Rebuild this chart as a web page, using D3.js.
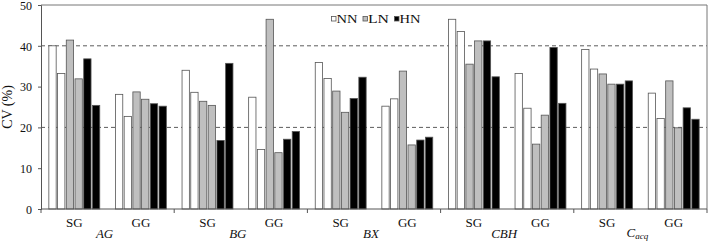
<!DOCTYPE html>
<html>
<head>
<meta charset="utf-8">
<script src="https://cdn.jsdelivr.net/npm/d3@7"></script>
<style>
  body { margin: 0; background: #fff; }
  text { font-family: "Liberation Serif", "Times New Roman", serif; fill: #111; }
</style>
</head>
<body>
<div id="chart-area"></div>
<script>
const traits = ["AG", "BG", "BX", "CBH", "Cacq"];
const stands = ["SG", "GG"];
const series = ["NN1", "NN2", "LN1", "LN2", "HN1", "HN2"];
const legendKeys = ["NN", "LN", "HN"];
const yTicks = [0, 10, 20, 30, 40, 50];

// CV (%) per trait/stand, one array per bar series
const nn1 = [40.0, 28.1, 34.0, 27.4, 35.9, 25.2, 46.5, 33.2, 39.1, 28.4];
const nn2 = [33.2, 22.7, 28.6, 14.6, 32.0, 27.0, 43.5, 24.7, 34.3, 22.2];
const ln1 = [41.4, 28.7, 26.4, 46.5, 28.9, 33.8, 35.5, 15.9, 33.1, 31.4];
const ln2 = [31.9, 26.9, 25.4, 13.8, 23.7, 15.7, 41.2, 23.0, 30.6, 19.9];
const hn1 = [36.8, 25.8, 16.8, 17.1, 27.1, 16.9, 41.2, 39.6, 30.6, 24.8];
const hn2 = [25.4, 25.2, 35.7, 19.0, 32.3, 17.6, 32.4, 25.9, 31.4, 22.0];

const values = [nn1, nn2, ln1, ln2, hn1, hn2];
const groups = [];
traits.forEach((t, i) => stands.forEach((s, j) => groups.push({ trait: t, stand: s, key: t + "-" + s, idx: i * 2 + j })));

const fill = { NN: "#ffffff", LN: "#bfbfbf", HN: "#000000" };

const margin = { top: 5, right: 2, bottom: 34, left: 41 };
const W = 709, H = 243;
const width = W - margin.left - margin.right;
const height = H - margin.top - margin.bottom;

const svg = d3.select("#chart-area")
  .append("svg")
    .attr("width", W)
    .attr("height", H);

const g = svg.append("g")
  .attr("transform", `translate(${margin.left}, ${margin.top})`);

const xT = d3.scaleBand().domain(traits).range([0, width]);
const x0 = d3.scaleBand().domain(groups.map(d => d.key)).range([0, width]);
const x1 = d3.scaleBand().domain(series).range([0, x0.bandwidth()])
  .paddingInner(0.16).paddingOuter(0.9);

const y = d3.scaleLinear().domain([0, 50]).range([height, 0]);

// dashed reference lines
g.selectAll(".grid")
  .data([20, 40])
  .enter()
  .append("line")
    .attr("x1", 0).attr("x2", width)
    .attr("y1", d => y(d)).attr("y2", d => y(d))
    .attr("stroke", "#333")
    .attr("stroke-dasharray", "4,3")
    .attr("stroke-width", 0.8);

// plot border (top, right)
g.append("path")
  .attr("d", `M0,${y(50)}H${width}V${height}`)
  .attr("fill", "none")
  .attr("stroke", "#777")
  .attr("stroke-width", 1);

// bars
const grp = g.selectAll(".grp")
  .data(groups)
  .enter()
  .append("g")
    .attr("transform", d => `translate(${x0(d.key)},0)`);

grp.selectAll("rect")
  .data(d => series.map((s, k) => ({ s, v: values[k][d.idx] })))
  .enter()
  .append("rect")
    .attr("x", d => x1(d.s))
    .attr("y", d => y(d.v))
    .attr("width", x1.bandwidth())
    .attr("height", d => height - y(d.v))
    .attr("fill", d => fill[d.s.slice(0, 2)])
    .attr("stroke", "#555")
    .attr("stroke-width", 0.8);

// y axis
const yAxisCall = d3.axisLeft(y).tickValues(yTicks).tickSizeOuter(0).tickSize(3).tickPadding(6);
const ya = g.append("g").attr("class", "y-axis").call(yAxisCall);
ya.select(".domain").attr("stroke", "#555");
ya.selectAll(".tick line").attr("stroke", "#555");
ya.selectAll("text")
  .attr("font-size", "12px")
  .attr("dy", "0.36em")
  .style("font-family", "Liberation Serif, serif");

// x axis: ticks at trait boundaries
g.append("line")
  .attr("x1", 0).attr("x2", width)
  .attr("y1", height).attr("y2", height)
  .attr("stroke", "#555");

g.selectAll(".xtick")
  .data(traits.map(t => xT(t)).concat([width]))
  .enter()
  .append("line")
    .attr("x1", d => d).attr("x2", d => d)
    .attr("y1", height).attr("y2", height + 4)
    .attr("stroke", "#555");

g.selectAll(".stand-label")
  .data(groups)
  .enter()
  .append("text")
    .attr("x", d => x0(d.key) + x0.bandwidth() / 2)
    .attr("y", height + 18)
    .attr("text-anchor", "middle")
    .attr("font-size", "13px")
    .text(d => d.stand);

const tl = g.selectAll(".trait-label")
  .data(traits)
  .enter()
  .append("text")
    .attr("x", d => xT(d) + xT.bandwidth() / 2 - 3)
    .attr("y", height + 29)
    .attr("text-anchor", "middle")
    .attr("font-size", "13px")
    .attr("font-style", "italic");

tl.each(function(d) {
  const t = d3.select(this);
  if (d === "Cacq") {
    t.attr("y", height + 28);
    t.append("tspan").text("C");
    t.append("tspan").attr("font-size", "9px").attr("dy", 2).text("acq");
  } else {
    t.text(d);
  }
});

// y label
g.append("text")
  .attr("x", -(height / 2))
  .attr("y", -29)
  .attr("font-size", "14px")
  .attr("text-anchor", "middle")
  .attr("transform", "rotate(-90)")
  .text("CV (%)");

// legend
const lg = svg.append("g").attr("transform", "translate(331, 0)");
const li = lg.selectAll(".li")
  .data(legendKeys)
  .enter()
  .append("g")
    .attr("transform", (d, i) => `translate(${i * 31.5}, 0)`);

li.append("rect")
  .attr("x", 0.5).attr("y", 16.5)
  .attr("width", 4.5).attr("height", 4.5)
  .attr("fill", d => fill[d])
  .attr("stroke", "#555")
  .attr("stroke-width", 0.8);

li.append("text")
  .attr("x", 5.5)
  .attr("y", 22.5)
  .attr("font-size", "12.5px")
  .attr("textLength", 21)
  .attr("lengthAdjust", "spacingAndGlyphs")
  .text(d => d);
</script>
</body>
</html>
